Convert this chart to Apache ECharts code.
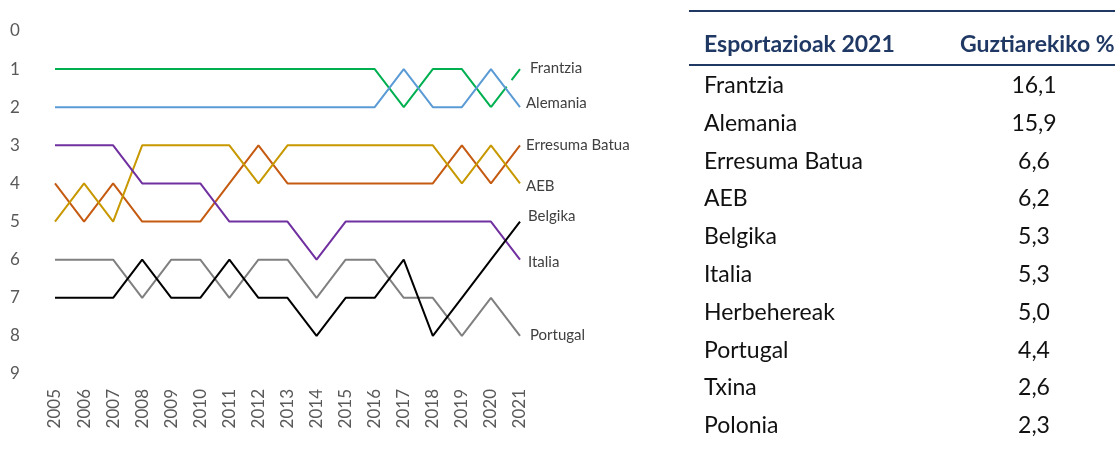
<!DOCTYPE html>
<html>
<head>
<meta charset="utf-8">
<script src="https://cdn.jsdelivr.net/npm/echarts@6/dist/echarts.min.js"></script>
<style>
  html, body { margin:0; padding:0; background:#fff; }
  #wrap { position:relative; width:1115px; height:453px; overflow:hidden; }
  #chart { position:absolute; left:0; top:0; width:1115px; height:453px; }
  #table { position:absolute; left:689px; top:10px; width:426px; height:443px; overflow:hidden; font-family:Lato, sans-serif; }
  .rule { position:absolute; left:0; width:426px; height:2px; background:#1F3864; }
  .hdr { position:absolute; font-weight:bold; color:#1F3864; font-size:23px; white-space:nowrap; line-height:24px; }
  .cell { position:absolute; color:#111; font-size:23px; white-space:nowrap; line-height:24px; }
</style>
</head>
<body>
<div id="wrap">
  <div id="chart"></div>
  <div id="table"></div>
</div>
<script>
// ---- data ----
const years = ['2005','2006','2007','2008','2009','2010','2011','2012','2013','2014','2015','2016','2017','2018','2019','2020','2021'];
const frantzia      = [1,1,1,1,1,1,1,1,1,1,1,1,2,1,1,2,1];
const alemania      = [2,2,2,2,2,2,2,2,2,2,2,2,1,2,2,1,2];
const erresumaBatua = [4,5,4,5,5,5,4,3,4,4,4,4,4,4,3,4,3];
const aeb           = [5,4,5,3,3,3,3,4,3,3,3,3,3,3,4,3,4];
const belgika       = [7,7,7,6,7,7,6,7,7,8,7,7,6,8,7,6,5];
const italia        = [3,3,3,4,4,4,5,5,5,6,5,5,5,5,5,5,6];
const portugal      = [6,6,6,7,6,6,7,6,6,7,6,6,7,7,8,7,8];
const rankTicks     = [0,1,2,3,4,5,6,7,8,9];

const tableHeader   = ['Esportazioak 2021', 'Guztiarekiko %'];
const tableCountries = ['Frantzia','Alemania','Erresuma Batua','AEB','Belgika','Italia','Herbehereak','Portugal','Txina','Polonia'];
const tableShares    = ['16,1','15,9','6,6','6,2','5,3','5,3','5,0','4,4','2,6','2,3'];

// ---- chart ----
const chart = echarts.init(document.getElementById('chart'), null, {renderer:'canvas'});
const FONT = 'Lato, sans-serif';
const lastIdx = years.length - 1;

function lineSeries(name, data, color, extra) {
  return Object.assign({
    name: name,
    type: 'line',
    data: data,
    symbol: 'none',
    silent: true,
    lineStyle: { color: color, width: 2 },
    endLabel: {
      show: true,
      formatter: name,
      color: '#404040',
      fontFamily: FONT,
      fontSize: 15,
      distance: 6
    }
  }, extra || {});
}

const frSolid = frantzia.map((v, i) => i <= lastIdx - 1 ? v : null);
const frDash  = frantzia.map((v, i) => i >= lastIdx - 1 ? v : null);

const option = {
  animation: false,
  grid: { left: 55, right: 595, top: 31, bottom: 79, containLabel: false },
  xAxis: {
    type: 'category',
    data: years,
    boundaryGap: false,
    axisLine: { show: false },
    axisTick: { show: false },
    splitLine: { show: false },
    axisLabel: { rotate: 90, margin: 15, color: '#595959', fontFamily: FONT, fontSize: 17, interval: 0 }
  },
  yAxis: {
    type: 'value',
    inverse: true,
    min: rankTicks[0],
    max: rankTicks[rankTicks.length - 1],
    interval: 1,
    axisLine: { show: false },
    axisTick: { show: false },
    splitLine: { show: false },
    axisLabel: { margin: 45, align: 'left', color: '#595959', fontFamily: FONT, fontSize: 17 }
  },
  series: [
    lineSeries('Frantzia', frSolid, '#00B050', { endLabel: { show: false } }),
    lineSeries('Frantzia', frDash, '#00B050', { lineStyle: { color: '#00B050', width: 2, type: [26, 8] } }),
    lineSeries('Alemania', alemania, '#5B9BD5'),
    lineSeries('Erresuma Batua', erresumaBatua, '#C55A11'),
    lineSeries('AEB', aeb, '#C89800'),
    lineSeries('Italia', italia, '#7030A0'),
    lineSeries('Portugal', portugal, '#808080'),
    lineSeries('Belgika', belgika, '#000000')
  ]
};
// end label offsets to mimic reference placement
option.series[1].endLabel.offset = [4, -1];
option.series[2].endLabel.offset = [0, -4];
option.series[4].endLabel.offset = [0, 3];
option.series[7].endLabel.offset = [2, -5];
option.series[5].endLabel.offset = [2, 2];
option.series[6].endLabel.offset = [4, -1];
chart.setOption(option);

// ---- table ----
const tbl = document.getElementById('table');
function add(cls, text, css) {
  const d = document.createElement('div');
  d.className = cls;
  d.textContent = text;
  Object.assign(d.style, css);
  tbl.appendChild(d);
  return d;
}
add('rule', '', { top: '0px' });
add('rule', '', { top: '54px' });
add('hdr', tableHeader[0], { left: '15px', top: '21px' });
add('hdr', tableHeader[1], { left: '271px', top: '21px' });
const rowTop0 = 62, rowStep = 37.8;
tableCountries.forEach((c, i) => {
  const top = (rowTop0 + i * rowStep) + 'px';
  add('cell', c, { left: '15px', top: top });
  add('cell', tableShares[i], { left: '300px', width: '90px', textAlign: 'center', top: top });
});
</script>
</body>
</html>
